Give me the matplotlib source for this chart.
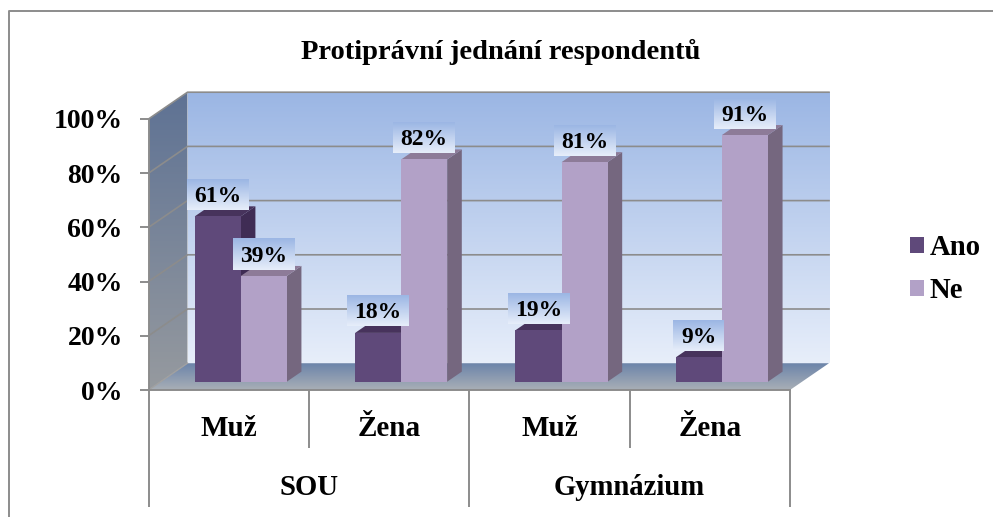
import numpy as np
import matplotlib
matplotlib.use("Agg")
import matplotlib.pyplot as plt
from matplotlib.colors import to_rgb
from matplotlib.lines import Line2D
from matplotlib.patches import Polygon, Patch
from matplotlib.transforms import Affine2D, IdentityTransform

title = "Protiprávní jednání respondentů"
groups = ["SOU", "Gymnázium"]
categories = ["Muž", "Žena", "Muž", "Žena"]
series_names = ["Ano", "Ne"]
ano_values = [61, 18, 19, 9]
ne_values = [39, 82, 81, 91]
y_ticks = [0, 20, 40, 60, 80, 100]

plt.rcParams["font.family"] = ["Liberation Serif", "DejaVu Serif"]
plt.rcParams["font.weight"] = "bold"

W, H = 993, 517
fig = plt.figure(figsize=(W / 100, H / 100), dpi=100, facecolor="white")
L, R, Y0, Y100 = 148.5, 790, 390, 119
ax = fig.add_axes([L / W, 1 - Y0 / H, (R - L) / W, (Y0 - Y100) / H])
ax.patch.set_visible(False)
ax.set_xlim(0, 4)
ax.set_ylim(0, 100)

GRAY = "#8c8c8c"
DX, DY = 39.0, 26.8
ident = IdentityTransform()


def pt(x, v, d=0.0):
    px, py = ax.transData.transform((x, v))
    return (px + d * DX, py + d * DY)


def grad(top, bottom, n=128):
    a, b = np.array(to_rgb(top)), np.array(to_rgb(bottom))
    t = np.linspace(0, 1, n)[:, None, None]
    return a + (b - a) * t * np.ones((n, 2, 3))


def grad_image(top, bottom, left, right, low, high, z, clip=None):
    im = ax.imshow(grad(top, bottom), extent=(left, right, low, high), origin="upper",
                   aspect="auto", interpolation="bilinear", transform=ident,
                   zorder=z, clip_on=False)
    if clip is not None:
        poly = Polygon(clip, closed=True, transform=ident, fc="none", ec="none", zorder=0)
        ax.add_patch(poly)
        im.set_clip_on(True)
        im.set_clip_box(fig.bbox)
        im.set_clip_path(poly)
    return im


# back wall
bl, tr = pt(0, 0, 1), pt(4, 100, 1)
grad_image("#9bb6e4", "#e7eefa", bl[0], tr[0], bl[1], tr[1], 1)
# side wall
side = [pt(0, 0), pt(0, 100), pt(0, 100, 1), pt(0, 0, 1)]
grad_image("#5e7294", "#969a9f", pt(0, 0)[0], pt(0, 0, 1)[0], pt(0, 0)[1], pt(0, 100, 1)[1], 1, side)
# floor
floor = [pt(0, 0), pt(4, 0), pt(4, 0, 1), pt(0, 0, 1)]
grad_image("#6b84aa", "#a9afb6", pt(0, 0)[0], pt(4, 0, 1)[0], pt(0, 0)[1], pt(0, 0, 1)[1], 1.2, floor)

# gridlines on the wall and the side wall
for v in y_ticks[1:]:
    a, b, c = pt(0, v), pt(0, v, 1), pt(4, v, 1)
    ax.add_line(Line2D([a[0], b[0], c[0]], [a[1], b[1], c[1]], transform=ident, color=GRAY,
                       lw=1.2, zorder=1.5, clip_on=False))
a, b = pt(0, 0), pt(0, 0, 1)
ax.add_line(Line2D([a[0], b[0]], [a[1], b[1]], transform=ident, color="#a0a0a0", lw=1.0,
                   zorder=1.5, clip_on=False))

# bars
BW = 0.287
D0, D1 = 0.31, 0.685
front = ax.transData + Affine2D().translate(D0 * DX, D0 * DY)
styles = [("#5f497a", "#47335c", "#3f2c54"), ("#b2a1c7", "#8d7b98", "#75677f")]
centers = np.arange(len(categories)) + 0.5
labels = []
z = 3.0
for i, c in enumerate(centers):
    for s, vals in enumerate([ano_values, ne_values]):
        x0 = c + (s - 1) * BW
        x1 = x0 + BW
        v = vals[i]
        fc, tc, sc = styles[s]
        ax.add_patch(Polygon([pt(x1, 0, D0), pt(x1, v, D0), pt(x1, v, D1), pt(x1, 0, D1)],
                             transform=ident, fc=sc, ec="none", zorder=z, clip_on=False))
        ax.add_patch(Polygon([pt(x0, v, D0), pt(x1, v, D0), pt(x1, v, D1), pt(x0, v, D1)],
                             transform=ident, fc=tc, ec="none", zorder=z, clip_on=False))
        ax.bar(x0, v, width=BW, align="edge", color=fc, transform=front, zorder=z + 0.1,
               clip_on=False)
        labels.append((x0 + BW / 2, v))
        z += 0.2
ax.set_xlim(0, 4)
ax.set_ylim(0, 100)

# data labels with gradient boxes
for x, v in labels:
    px, py = pt(x, v, D0)
    text = f"{v}%"
    w = 62 if v >= 10 else 51
    grad_image("#9bb6e4", "#e7eefa", px - w / 2, px + w / 2, py + 6.5, py + 37.5, 8)
    ax.text(px, py + 20, text, transform=ident, ha="center", va="center", fontsize=17,
            color="black", zorder=9, clip_on=False)

# axes
for name in ("top", "right"):
    ax.spines[name].set_visible(False)
for name in ("left", "bottom"):
    ax.spines[name].set_color(GRAY)
    ax.spines[name].set_linewidth(1.4)
    ax.spines[name].set_zorder(2)
ax.set_yticks(y_ticks)
ax.set_yticklabels([f"{v}%" for v in y_ticks], fontsize=20)
ax.tick_params(axis="y", length=6.5, width=1.4, color=GRAY, pad=12)
ax.set_xticks([0, 2, 4])
ax.set_xticks([1, 3], minor=True)
ax.set_xticklabels([])
ax.tick_params(axis="x", which="major", length=84, width=1.4, color=GRAY)
ax.tick_params(axis="x", which="minor", length=42, width=1.4, color=GRAY)
for c, name in zip(centers, categories):
    ax.annotate(name, xy=(c, 0), xycoords=("data", "axes fraction"), xytext=(0, -28),
                textcoords="offset points", ha="center", va="center", fontsize=21)
for k, name in enumerate(groups):
    ax.annotate(name, xy=(2 * k + 1, 0), xycoords=("data", "axes fraction"), xytext=(0, -70.5),
                textcoords="offset points", ha="center", va="center", fontsize=20.7)

# legend
handles = [Patch(fc=styles[0][0], ec="none"), Patch(fc=styles[1][0], ec="none")]
fig.legend(handles, series_names, loc="center left", bbox_to_anchor=(884 / W, 1 - 269 / H),
           frameon=False, fontsize=20.7, handlelength=0.49, handleheight=0.49, handletextpad=0.2,
           labelspacing=0.56)

fig.text(501 / W, 1 - 52 / H, title, ha="center", va="center", fontsize=20.5, color="black")

# chart frame
fig.add_artist(Line2D([8.5 / W, 8.5 / W, 1], [0, 1 - 10.5 / H, 1 - 10.5 / H], color=GRAY, lw=1.4))

fig.savefig("out.png", dpi=100)
